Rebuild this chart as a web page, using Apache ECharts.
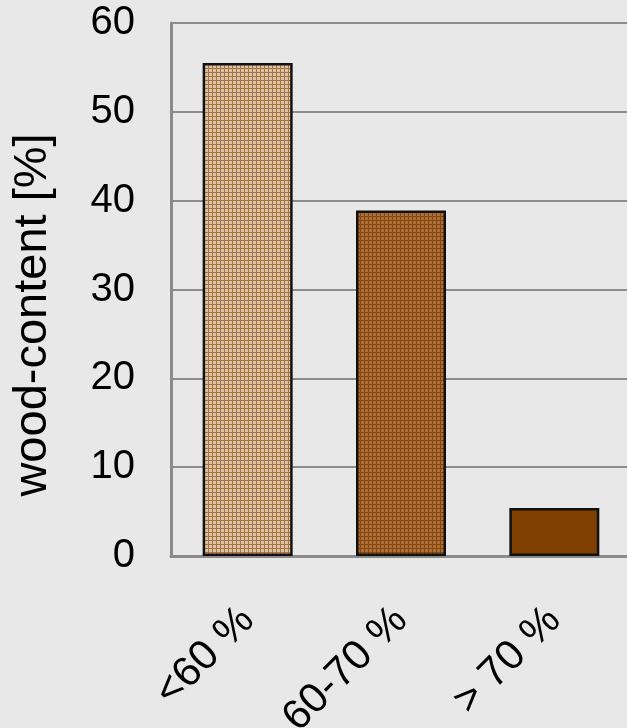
<!DOCTYPE html>
<html>
<head>
<meta charset="utf-8">
<script src="https://cdn.jsdelivr.net/npm/echarts@6/dist/echarts.min.js"></script>
<style>
  html, body { margin: 0; padding: 0; background: #e8e8e8; }
  #chart { width: 627px; height: 728px; }
</style>
</head>
<body>
<div id="chart"></div>
<script>
// Wood content share by class
const categories = ['<60 %', '60-70 %', '> 70 %'];
const woodContent = [55.5, 38.9, 5.4];
const yTicks = { min: 0, max: 60, step: 10 };

// Small checked fill: light base with a darker 1px grid
function checkPattern(base, line) {
  const c = document.createElement('canvas');
  c.width = 4; c.height = 4;
  const g = c.getContext('2d');
  g.fillStyle = base;
  g.fillRect(0, 0, 4, 4);
  g.fillStyle = line;
  g.fillRect(0, 0, 4, 1);
  g.fillRect(0, 0, 1, 4);
  return { image: c, repeat: 'repeat' };
}

const fills = [
  checkPattern('#dbc3aa', '#a87440'),
  checkPattern('#ad6d36', '#844710'),
  '#7e3f00'
];

const font = '"Liberation Sans", Arial, sans-serif';
const chart = echarts.init(document.getElementById('chart'));

chart.setOption({
  backgroundColor: '#e8e8e8',
  animation: false,
  grid: {
    left: 171, top: 23, width: 460, bottom: 172,
    containLabel: false,
    outerBoundsMode: 'none'
  },
  xAxis: {
    type: 'category',
    data: categories,
    axisLine: { show: true, lineStyle: { color: '#8a8a8a', width: 3 } },
    axisTick: { show: false },
    axisLabel: {
      rotate: 45,
      margin: 58,
      fontSize: 42,
      fontFamily: font,
      color: '#000',
      interval: 0
    }
  },
  yAxis: {
    type: 'value',
    min: yTicks.min,
    max: yTicks.max,
    interval: yTicks.step,
    axisLine: { show: true, lineStyle: { color: '#8a8a8a', width: 3 } },
    axisTick: { show: false },
    splitLine: { show: true, lineStyle: { color: '#8c8c8c', width: 2 } },
    axisLabel: { fontSize: 40, fontFamily: font, color: '#000', margin: 36 }
  },
  graphic: [{
    type: 'text',
    x: 33,
    y: 315,
    rotation: Math.PI / 2,
    style: {
      text: 'wood-content [%]',
      fontSize: 47,
      fontFamily: font,
      fill: '#000',
      align: 'center',
      verticalAlign: 'middle'
    }
  }],
  series: [{
    type: 'bar',
    barWidth: 90,
    data: woodContent.map((v, i) => ({
      value: v,
      itemStyle: { color: fills[i] }
    })),
    itemStyle: { borderColor: '#111', borderWidth: 2.5 }
  }]
});
</script>
</body>
</html>
